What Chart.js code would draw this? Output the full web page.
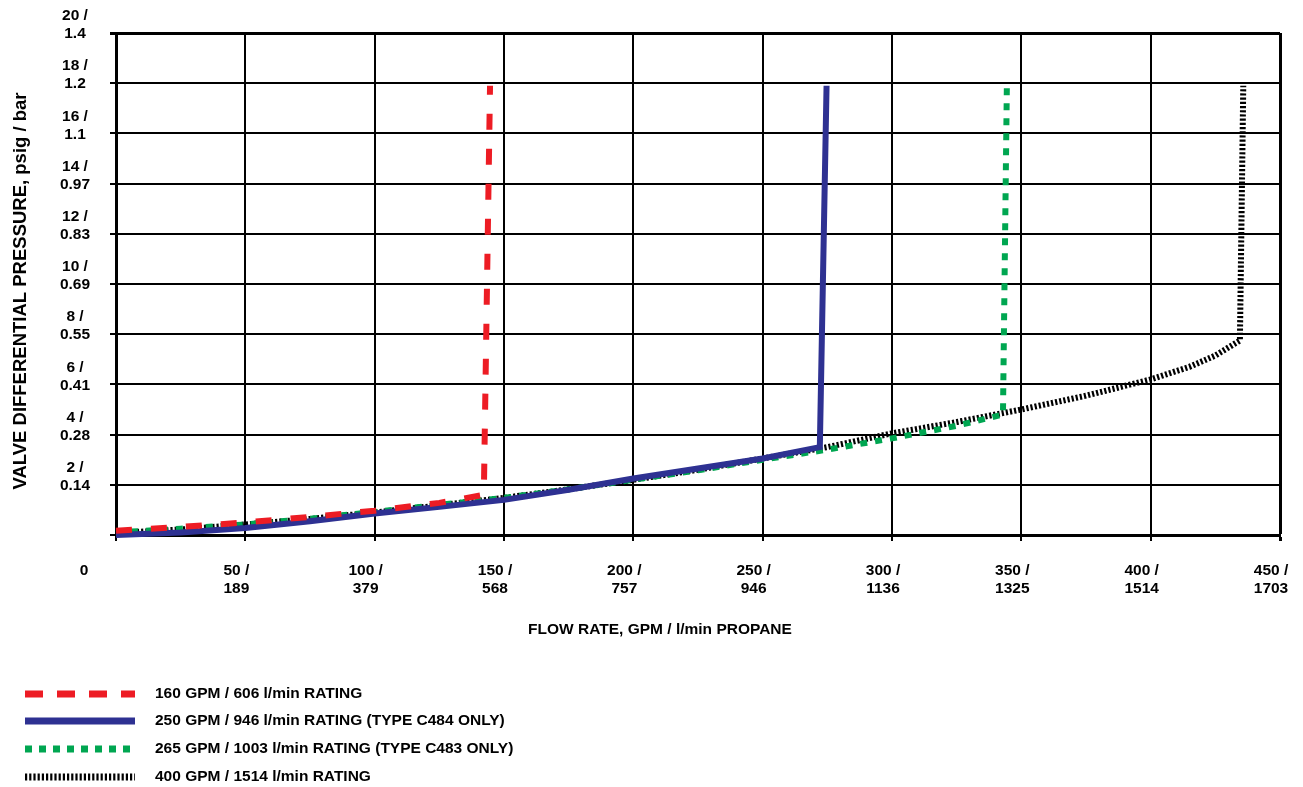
<!DOCTYPE html>
<html>
<head>
<meta charset="utf-8">
<script src="https://cdn.jsdelivr.net/npm/chart.js"></script>
<style>
  html, body { margin: 0; padding: 0; background: #fff; }
  canvas { display: block; }
</style>
</head>
<body>
<canvas id="flowChart" width="1303" height="787"></canvas>
<script>
// Axis ticks (GPM / l/min and psig / bar)
const xTickValues = [50, 100, 150, 200, 250, 300, 350, 400, 450];
const xTickLpm = ["189", "379", "568", "757", "946", "1136", "1325", "1514", "1703"];
const yTickValues = [2, 4, 6, 8, 10, 12, 14, 16, 18, 20];
const yTickBar = ["0.14", "0.28", "0.41", "0.55", "0.69", "0.83", "0.97", "1.1", "1.2", "1.4"];

// Series (flow GPM -> pressure psig)
const flow160 = [0, 25, 50, 75, 100, 125, 142.2, 144.6];
const psig160 = [0.17, 0.32, 0.5, 0.72, 0.97, 1.28, 1.6, 17.9];

const flow250 = [0, 25, 50, 75, 100, 125, 150, 175, 200, 225, 250, 272.1, 274.7];
const psig250 = [0, 0.1, 0.28, 0.55, 0.86, 1.12, 1.4, 1.8, 2.25, 2.65, 3.05, 3.5, 17.9];

const flow265 = [0, 25, 50, 75, 100, 125, 150, 175, 200, 225, 250, 275, 300, 325, 342.9, 344.4];
const psig265 = [0.1, 0.25, 0.42, 0.65, 0.92, 1.2, 1.48, 1.82, 2.2, 2.58, 3.0, 3.4, 3.85, 4.35, 4.8, 17.85];

const flow400 = [0, 25, 50, 75, 100, 125, 150, 175, 200, 225, 250, 275, 300, 325, 350, 375, 400, 415, 425, 434.5, 435.8];
const psig400 = [0.08, 0.22, 0.42, 0.64, 0.9, 1.18, 1.48, 1.82, 2.2, 2.6, 3.05, 3.5, 4.05, 4.5, 5.0, 5.55, 6.2, 6.7, 7.15, 7.75, 17.9];

const seriesLabels = [
  "160 GPM / 606 l/min RATING",
  "250 GPM / 946 l/min RATING (TYPE C484 ONLY)",
  "265 GPM / 1003 l/min RATING (TYPE C483 ONLY)",
  "400 GPM / 1514 l/min RATING"
];

const FONT = "bold 15.5px 'Liberation Sans', Arial, sans-serif";

function toPoints(xs, ys) {
  return xs.map((x, i) => ({ x: x, y: ys[i] }));
}

// Tick labels, axis titles and legend drawn on top of the chart
const labelsPlugin = {
  id: "labelsPlugin",
  afterDraw(chart) {
    const { ctx, scales: { x, y } } = chart;
    ctx.save();
    ctx.fillStyle = "#000";
    ctx.font = FONT;
    ctx.textAlign = "center";
    ctx.textBaseline = "middle";

    // y ticks
    yTickValues.forEach((v, i) => {
      const py = y.getPixelForValue(v);
      ctx.fillText(v + " /", 75, py - 17);
      ctx.fillText(yTickBar[i], 75, py + 1);
    });

    // x ticks
    ctx.fillText("0", 84, 571);
    xTickValues.forEach((v, i) => {
      const px = x.getPixelForValue(v) - 9;
      ctx.fillText(v + " /", px, 571);
      ctx.fillText(xTickLpm[i], px, 589);
    });

    // axis titles
    ctx.fillText("FLOW RATE, GPM / l/min PROPANE", 660, 630);
    ctx.save();
    ctx.translate(21, 291);
    ctx.rotate(-Math.PI / 2);
    ctx.font = "bold 18.5px 'Liberation Sans', Arial, sans-serif";
    ctx.fillText("VALVE DIFFERENTIAL PRESSURE, psig / bar", 0, 0);
    ctx.restore();

    // legend
    const rows = [694, 721, 749, 777];
    ctx.textAlign = "left";
    chart.data.datasets.forEach((ds, i) => {
      const ly = rows[i];
      ctx.save();
      ctx.strokeStyle = ds.borderColor;
      ctx.lineWidth = ds.legendWidth;
      ctx.lineCap = "butt";
      ctx.setLineDash(ds.legendDash);
      ctx.beginPath();
      ctx.moveTo(25, ly);
      ctx.lineTo(135, ly);
      ctx.stroke();
      ctx.restore();
      ctx.fillText(ds.label, 155, ly);
    });
    ctx.restore();
  }
};

const datasets = [
  {
    label: seriesLabels[0],
    data: toPoints(flow160, psig160),
    borderColor: "#ED1C24",
    borderWidth: 6,
    borderDash: [16, 19],
    legendDash: [18, 14],
    legendWidth: 7
  },
  {
    label: seriesLabels[1],
    data: toPoints(flow250, psig250),
    borderColor: "#2E3192",
    borderWidth: 6,
    borderDash: [],
    legendDash: [],
    legendWidth: 7
  },
  {
    label: seriesLabels[2],
    data: toPoints(flow265, psig265),
    borderColor: "#00A651",
    borderWidth: 6,
    borderDash: [7, 8],
    legendDash: [7, 7],
    legendWidth: 7
  },
  {
    label: seriesLabels[3],
    data: toPoints(flow400, psig400),
    borderColor: "#000000",
    borderWidth: 6,
    borderDash: [2.2, 2],
    legendDash: [2.2, 2],
    legendWidth: 7
  }
];

const gridWidth = (c) => (c.tick && (c.tick.value === 450 || c.tick.value === 20) ? 3 : 2);

new Chart(document.getElementById("flowChart").getContext("2d"), {
  type: "line",
  data: { datasets: datasets },
  options: {
    responsive: false,
    animation: false,
    devicePixelRatio: 1,
    layout: { padding: { left: 110, top: 33, right: 23, bottom: 246 } },
    elements: {
      point: { radius: 0, hoverRadius: 0 },
      line: { tension: 0, borderCapStyle: "butt", borderJoinStyle: "miter", fill: false }
    },
    datasets: { line: { clip: false } },
    plugins: { legend: { display: false }, tooltip: { enabled: false } },
    scales: {
      x: {
        type: "linear",
        min: 0,
        max: 450,
        ticks: { stepSize: 50, display: false },
        grid: { color: "#000", lineWidth: gridWidth, tickLength: 6 },
        border: { color: "#000", width: 3 }
      },
      y: {
        type: "linear",
        min: 0,
        max: 20,
        ticks: { stepSize: 2, display: false },
        grid: { color: "#000", lineWidth: gridWidth, tickLength: 6 },
        border: { color: "#000", width: 3 }
      }
    }
  },
  plugins: [labelsPlugin]
});
</script>
</body>
</html>
